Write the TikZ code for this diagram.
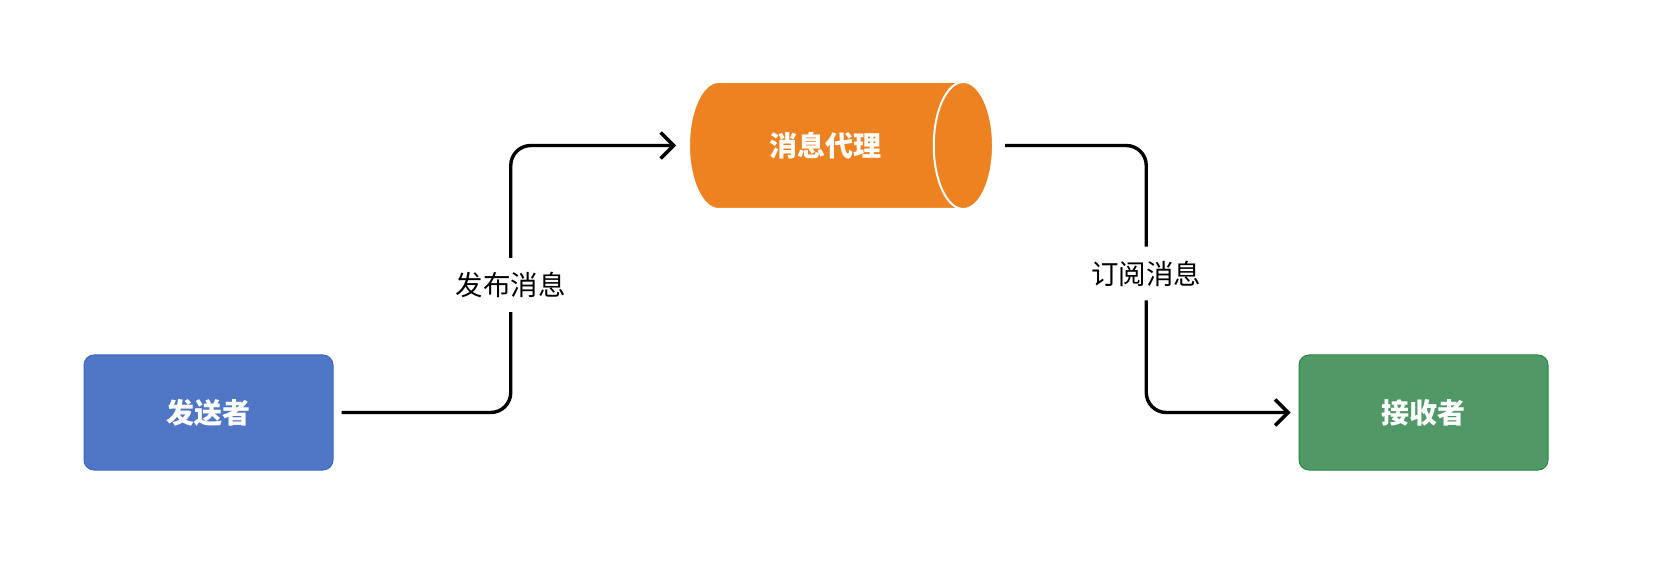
\documentclass[tikz,border=0pt]{standalone}
\usepackage{fontspec}
\setmainfont{Noto Sans CJK SC}
\usetikzlibrary{arrows.meta,positioning,shapes.geometric,calc}
\definecolor{senderblue}{RGB}{80,119,197}
\definecolor{senderedge}{RGB}{58,105,192}
\definecolor{brokerorange}{RGB}{238,130,32}
\definecolor{receivergreen}{RGB}{80,152,102}
\definecolor{receiveredge}{RGB}{40,135,64}

\begin{document}
\begin{tikzpicture}[x=1pt, y=1pt,
	box/.style={draw, line width=1pt, rounded corners=10pt, minimum width=249pt, minimum height=115pt, inner sep=0pt, text=white, font=\fontsize{28}{28}\selectfont\bfseries},
	flow/.style={-{Straight Barb[length=13pt, width=26pt, line width=3.4pt]}, line width=3.4pt, rounded corners=20pt, black},
	lbl/.style={fill=white, inner xsep=2pt, inner ysep=14pt, font=\fontsize{27.5}{27.5}\selectfont}]

	\useasboundingbox (0,0) rectangle (1653,581);

	\node (sender) [box, fill=senderblue, draw=senderedge] at (208.5,168.5) {发送者};
	\node (receiver) [box, fill=receivergreen, draw=receiveredge, right=965pt of sender] {接收者};
	\node (broker) [cylinder, shape border rotate=0, aspect=2.2, minimum height=304pt, minimum width=127pt, inner sep=0pt, draw=white, line width=2pt, cylinder uses custom fill, cylinder body fill=brokerorange, cylinder end fill=brokerorange, text=white, font=\fontsize{28}{28}\selectfont\bfseries, anchor=shape center] at (841,435.5) {消息代理};

	\draw[flow, shorten <=8pt, shorten >=12pt] (sender.east) -| ($(sender.east)!0.5!(broker.west)$) node[lbl, yshift=-6pt] {发布消息} |- (broker.west);
	\draw[flow, shorten <=11pt, shorten >=8pt] (broker.east) -| ($(broker.east)!0.5!(receiver.west)$) node[lbl, yshift=5.5pt] {订阅消息} |- (receiver.west);

\end{tikzpicture}
\end{document}
